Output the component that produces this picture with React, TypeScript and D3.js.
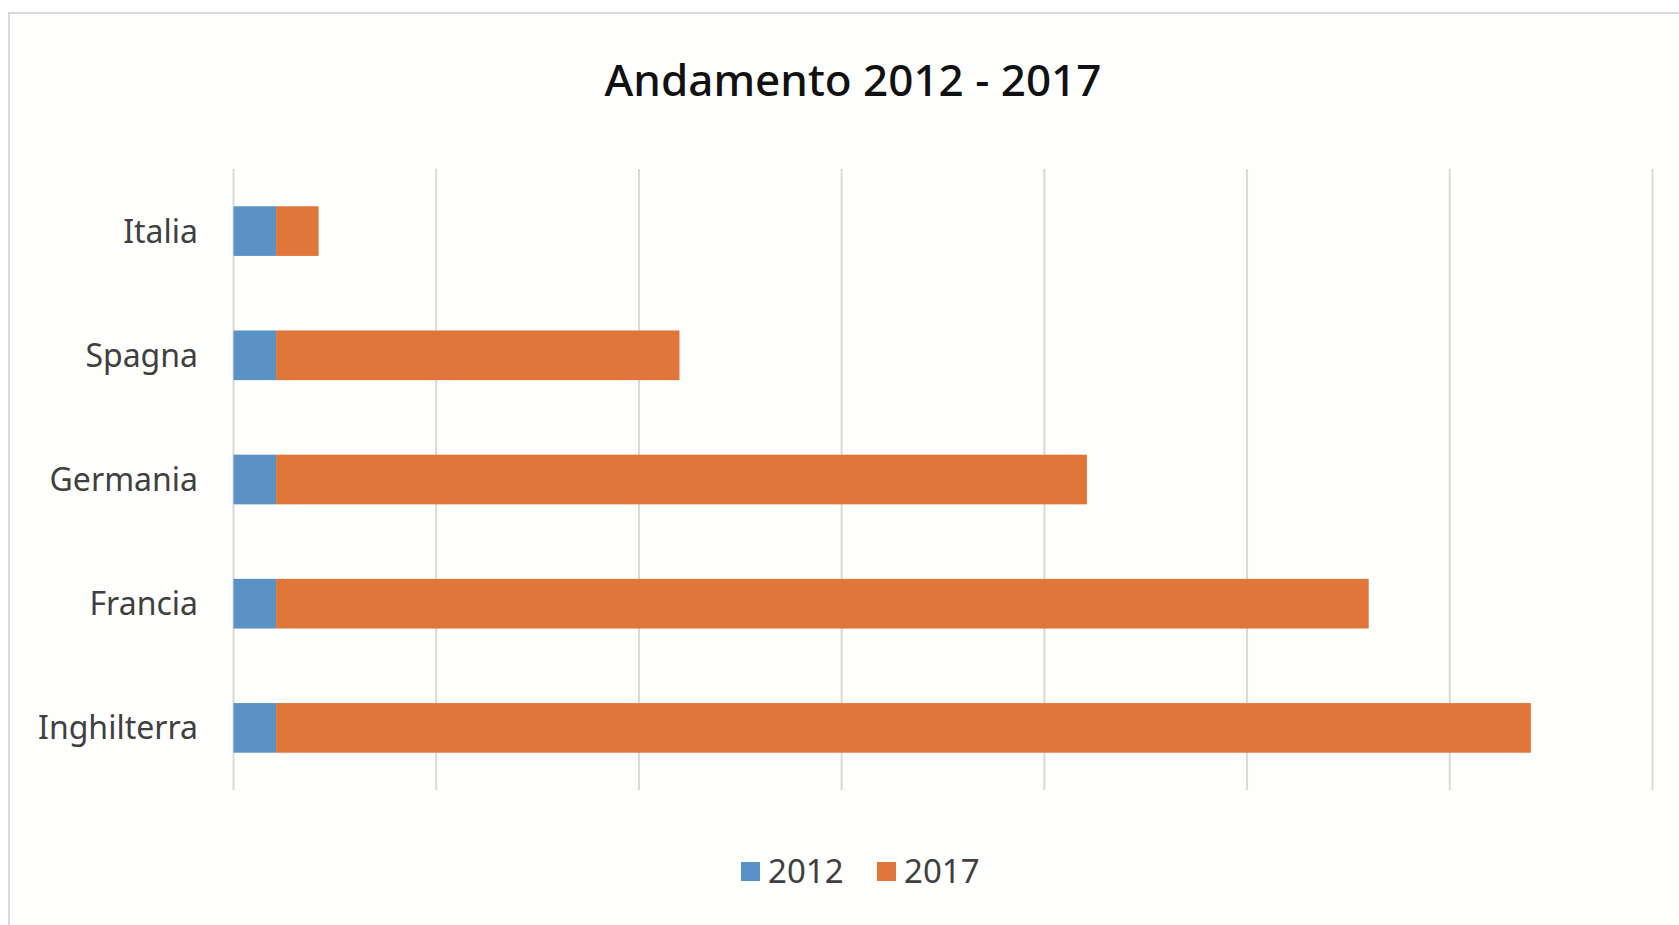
import React, { useRef, useEffect } from 'react';
import * as d3 from 'd3';

const countries = ['Italia', 'Spagna', 'Germania', 'Francia', 'Inghilterra'];
const series = ['2012', '2017'];
const values2012 = [21, 21, 21, 21, 21];
const values2017 = [21, 199, 400, 539, 619];
const colors = ['#5B92C5', '#E1763A'];

const W = 1679;
const H = 925;

const App: React.FC = () => {
    const ref = useRef<SVGSVGElement | null>(null);

    useEffect(() => {
        if (!ref.current) return;
        const svg = d3.select(ref.current);
        svg.selectAll('*').remove();

        const font = '"Noto Sans", "Open Sans", sans-serif';

        // chart area background and frame
        svg.append('rect').attr('width', W).attr('height', H).attr('fill', '#ffffff');
        svg.append('rect')
            .attr('x', 9).attr('y', 13)
            .attr('width', W + 20).attr('height', H + 20)
            .attr('fill', '#fefefd')
            .attr('stroke', '#d9d9d9')
            .attr('stroke-width', 2);

        svg.append('text')
            .attr('x', 853).attr('y', 96)
            .attr('text-anchor', 'middle')
            .attr('font-family', font)
            .attr('font-size', 44)
            .attr('font-weight', 500)
            .attr('fill', '#111111')
            .text('Andamento 2012 - 2017');

        const plotTop = 169, plotBottom = 790;
        const x = d3.scaleLinear().domain([0, 700]).range([233.5, 1652.5]);
        const y = d3.scaleBand().domain(countries).range([plotTop, plotBottom]).paddingInner(0.6).paddingOuter(0.3);

        // gridlines
        svg.append('g')
            .selectAll('line')
            .data(x.ticks(7))
            .join('line')
            .attr('x1', d => x(d)).attr('x2', d => x(d))
            .attr('y1', plotTop).attr('y2', plotBottom)
            .attr('stroke', '#d9d9d9')
            .attr('stroke-width', 2);

        const rows = countries.map((c, i) => ({ c, v: [values2012[i], values2017[i]] }));

        const stacked = rows.flatMap(r => {
            let acc = 0;
            return r.v.map((v, si) => {
                const s = { c: r.c, x0: acc, x1: acc + v, si };
                acc += v;
                return s;
            });
        });

        svg.append('g')
            .selectAll('rect')
            .data(stacked)
            .join('rect')
            .attr('x', d => x(d.x0))
            .attr('width', d => x(d.x1) - x(d.x0))
            .attr('y', d => y(d.c) as number)
            .attr('height', y.bandwidth())
            .attr('fill', d => colors[d.si]);

        // category labels
        svg.append('g')
            .selectAll('text')
            .data(countries)
            .join('text')
            .attr('x', 198)
            .attr('y', d => (y(d) as number) + y.bandwidth() / 2)
            .attr('dy', '0.36em')
            .attr('text-anchor', 'end')
            .attr('font-family', font)
            .attr('font-size', 32)
            .attr('fill', '#404040')
            .text(d => d);

        // legend
        const legendX = [741, 877];
        const lg = svg.append('g');
        series.forEach((s, i) => {
            lg.append('rect')
                .attr('x', legendX[i]).attr('y', 862)
                .attr('width', 19).attr('height', 19)
                .attr('fill', colors[i]);
            lg.append('text')
                .attr('x', legendX[i] + 27).attr('y', 883)
                .attr('font-family', font)
                .attr('font-size', 33)
                .attr('fill', '#404040')
                .text(s);
        });
    }, []);

    return (
        <div style={{ position: 'fixed', left: 0, top: 0 }}>
            <svg ref={ref} width={W} height={H} style={{ display: 'block' }} />
        </div>
    );
};

export default App;
